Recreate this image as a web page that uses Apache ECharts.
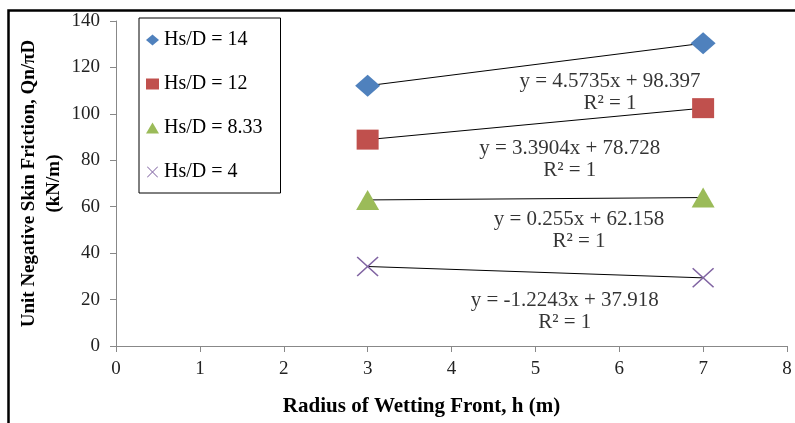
<!DOCTYPE html>
<html>
<head>
<meta charset="utf-8">
<script src="https://cdn.jsdelivr.net/npm/echarts@6/dist/echarts.min.js"></script>
<style>
  html, body { margin: 0; padding: 0; background: #fff; }
  #chart { width: 795px; height: 423px; }
</style>
</head>
<body>
<div id="chart"></div>
<script>
// Radius of wetting front (m)
const xValues = [3, 7];

// Series names
const seriesNames = ['Hs/D = 14', 'Hs/D = 12', 'Hs/D = 8.33', 'Hs/D = 4'];

// Unit negative skin friction Qn/πD (kN/m) at each radius
const qHs14 = [112.12, 130.41];
const qHs12 = [88.90, 102.46];
const qHs833 = [62.92, 63.94];
const qHs4 = [34.25, 29.35];

// Linear trendline coefficients and fit quality
const slopes = [4.5735, 3.3904, 0.255, -1.2243];
const intercepts = [98.397, 78.728, 62.158, 37.918];
const rSquared = [1, 1, 1, 1];

// Axis ranges
const xAxisRange = { min: 0, max: 8, interval: 1 };
const yAxisRange = { min: 0, max: 140, interval: 20 };

// Where each trendline equation is placed (data coordinates)
const equationAnchors = [[5.89, 109.3], [5.41, 80.4], [5.52, 49.9], [5.35, 14.8]];

const seriesValues = [qHs14, qHs12, qHs833, qHs4];
const colors = ['#4F81BD', '#C0504D', '#9BBB59', '#8064A2'];
const crossPath = 'path://M0,1 L1,0 L10,9 L19,0 L20,1 L11,10 L20,19 L19,20 L10,11 L1,20 L0,19 L9,10 Z';
const symbols = ['diamond', 'rect', 'triangle', crossPath];
const symbolSizes = [[25, 22], [22, 20], [23, 20], [22, 20]];

const FONT = '"Liberation Serif", "Times New Roman", serif';

function equationText(i) {
  const sign = intercepts[i] >= 0 ? '+' : '-';
  return 'y = ' + slopes[i] + 'x ' + sign + ' ' + Math.abs(intercepts[i]) + '\nR² = ' + rSquared[i];
}

const series = [];

// Trendlines
seriesNames.forEach(function (name, i) {
  series.push({
    type: 'line',
    data: xValues.map(function (x) { return [x, slopes[i] * x + intercepts[i]]; }),
    symbol: 'none',
    silent: true,
    z: 2,
    lineStyle: { color: '#000', width: 1 },
    animation: false
  });
});

// Data markers
seriesNames.forEach(function (name, i) {
  series.push({
    name: name,
    type: 'scatter',
    data: xValues.map(function (x, j) { return [x, seriesValues[i][j]]; }),
    symbol: symbols[i],
    symbolSize: symbolSizes[i],
    itemStyle: { color: colors[i], opacity: 1 },
    z: 3,
    animation: false
  });
});

// Trendline equations
seriesNames.forEach(function (name, i) {
  series.push({
    type: 'scatter',
    data: [equationAnchors[i]],
    symbolSize: 0,
    silent: true,
    z: 4,
    label: {
      show: true,
      position: 'inside',
      formatter: function () { return equationText(i); },
      fontFamily: FONT,
      fontSize: 21,
      lineHeight: 22,
      align: 'center',
      color: '#000'
    },
    animation: false
  });
});

const chart = echarts.init(document.getElementById('chart'), null, { renderer: 'canvas' });
chart.setOption({
  backgroundColor: '#fff',
  animation: false,
  grid: { left: 116, top: 21, right: 8, bottom: 77, containLabel: false },
  legend: {
    data: seriesNames,
    orient: 'vertical',
    left: 139,
    top: 18,
    padding: [12, 18, 11, 7],
    itemGap: 24,
    itemWidth: 13,
    itemHeight: 11,
    borderColor: '#000',
    borderWidth: 1,
    backgroundColor: '#fff',
    textStyle: { fontFamily: FONT, fontSize: 20, lineHeight: 20, color: '#000' },
    selectedMode: false
  },
  xAxis: {
    type: 'value',
    min: xAxisRange.min,
    max: xAxisRange.max,
    interval: xAxisRange.interval,
    name: 'Radius of Wetting Front, h (m)',
    nameLocation: 'middle',
    nameMoveOverlap: false,
    nameGap: 50,
    nameTextStyle: { fontFamily: FONT, fontSize: 21, fontWeight: 'bold', color: '#000', padding: [0, 60, 0, 0] },
    axisLine: { show: true, lineStyle: { color: '#888', width: 1 } },
    axisTick: { show: true, length: 6, lineStyle: { color: '#888' } },
    axisLabel: { fontFamily: FONT, fontSize: 19, color: '#222', margin: 14 },
    splitLine: { show: false }
  },
  yAxis: {
    type: 'value',
    min: yAxisRange.min,
    max: yAxisRange.max,
    interval: yAxisRange.interval,
    name: 'Unit Negative Skin Friction, Qn/πD\n(kN/m)',
    nameLocation: 'middle',
    nameMoveOverlap: false,
    nameRotate: 90,
    nameGap: 49,
    nameTextStyle: { fontFamily: FONT, fontSize: 19, fontWeight: 'bold', color: '#000', lineHeight: 25, align: 'center' },
    axisLine: { show: true, lineStyle: { color: '#888', width: 1 } },
    axisTick: { show: true, length: 6, lineStyle: { color: '#888' } },
    axisLabel: { fontFamily: FONT, fontSize: 19, color: '#222', margin: 16 },
    splitLine: { show: false }
  },
  graphic: [{
    type: 'rect',
    left: 6,
    top: 8,
    shape: { width: 900, height: 600 },
    style: { fill: 'none', stroke: '#000', lineWidth: 2.5 },
    silent: true,
    z: 100
  }],
  series: series
});
</script>
</body>
</html>
